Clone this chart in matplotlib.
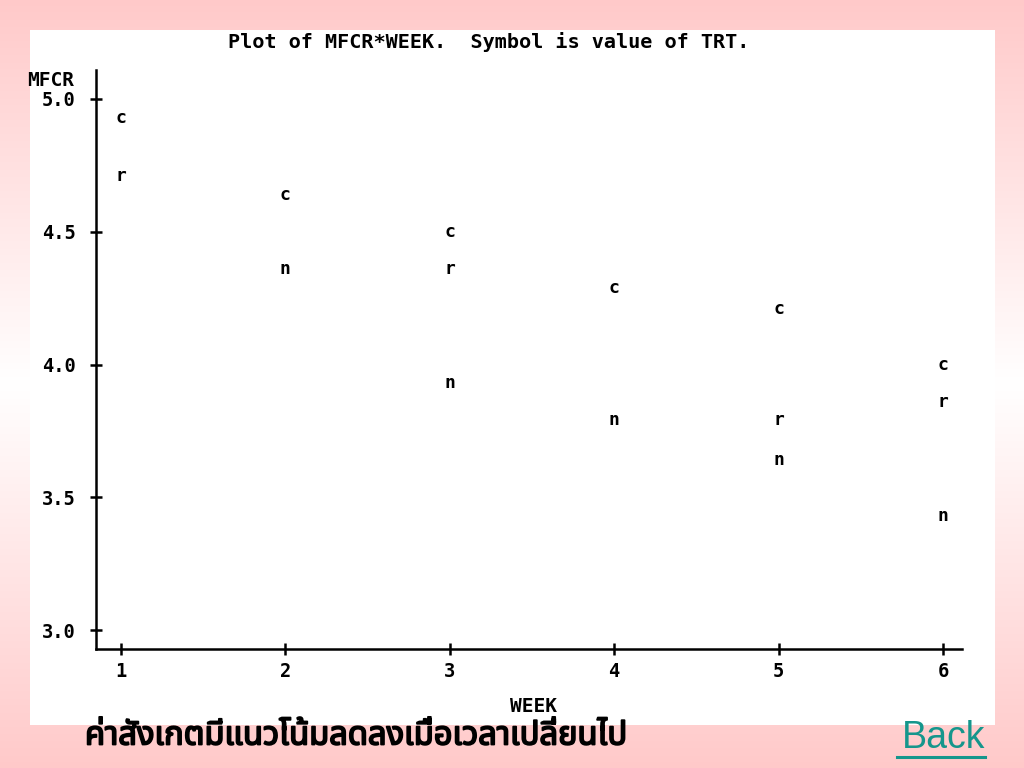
import numpy as np
import matplotlib
matplotlib.use("Agg")
import matplotlib.pyplot as plt
import matplotlib.patheffects as pe
from matplotlib.patches import Rectangle

# values
weeks_c = [1, 2, 3, 4, 5, 6]
mfcr_c = [4.93, 4.64, 4.50, 4.29, 4.21, 4.00]
weeks_r = [1, 3, 5, 6]
mfcr_r = [4.71, 4.36, 3.79, 3.86]
weeks_n = [2, 3, 4, 5, 6]
mfcr_n = [4.36, 3.93, 3.79, 3.64, 3.43]

x_ticks = [1, 2, 3, 4, 5, 6]
y_ticks = [3.0, 3.5, 4.0, 4.5, 5.0]

title = "Plot of MFCR*WEEK.  Symbol is value of TRT."
caption = "ค่าสังเกตมีแนวโน้มลดลงเมื่อเวลาเปลี่ยนไป"

mono = "DejaVu Sans Mono"
thai_fonts = ["Noto Sans Thai", "Noto Sans Thai Looped", "Loma", "Garuda",
              "Norasi", "Tlwg Typo", "Noto Sans", "DejaVu Sans"]

fig = plt.figure(figsize=(10.24, 7.68), dpi=100)

# slide background: pink at top and bottom fading to white in the middle
bg = fig.add_axes([0, 0, 1, 1], zorder=-10)
t = np.abs(np.linspace(-1, 1, 256))[:, None]
pink = np.array([1.0, 0.79, 0.79])
grad = (1 - t)[..., None] * np.ones(3) + t[..., None] * pink
grad = np.repeat(grad, 4, axis=1)
bg.imshow(grad, aspect="auto", extent=[0, 1, 0, 1])
bg.add_patch(Rectangle((30 / 1024, 1 - 725 / 768), 965 / 1024, 695 / 768,
                       facecolor="white", edgecolor="none"))
bg.set_xlim(0, 1)
bg.set_ylim(0, 1)
bg.axis("off")

ax = fig.add_axes([96 / 1024, 1 - 649 / 768, 866 / 1024, 579 / 768])
ax.patch.set_alpha(0)
ax.set_xlim(0.848, 6.116)
ax.set_ylim(2.929, 5.109)
for s in ["top", "right"]:
    ax.spines[s].set_visible(False)
for s in ["left", "bottom"]:
    ax.spines[s].set_linewidth(1.8)

ax.set_xticks(x_ticks)
ax.set_xticklabels([str(w) for w in x_ticks])
ax.set_yticks(y_ticks)
ax.set_yticklabels([f"{v:.1f}" for v in y_ticks])
ax.tick_params(axis="both", direction="inout", length=9, width=1.8, labelsize=13.5)
ax.tick_params(axis="y", pad=10)
ax.tick_params(axis="x", pad=5)
for lab in ax.get_xticklabels() + ax.get_yticklabels():
    lab.set_fontfamily(mono)
    lab.set_fontweight("bold")

for xs, ys, sym in [(weeks_c, mfcr_c, "c"), (weeks_r, mfcr_r, "r"), (weeks_n, mfcr_n, "n")]:
    for x, y in zip(xs, ys):
        ax.text(x, y, sym, ha="center", va="center", fontsize=13,
                fontfamily=mono, fontweight="bold")

fig.text(489 / 1024, 1 - 42 / 768, title, ha="center", va="center",
         fontsize=14.5, fontfamily=mono, fontweight="bold")
fig.text(27 / 1024, 1 - 80 / 768, "MFCR", ha="left", va="center",
         fontsize=14, fontfamily=mono, fontweight="bold")
fig.text(533 / 1024, 1 - 706 / 768, "WEEK", ha="center", va="center",
         fontsize=14, fontfamily=mono, fontweight="bold")

fig.text(85 / 1024, 1 - 736 / 768, caption, ha="left", va="center",
         fontsize=23.5, fontweight="bold", family=thai_fonts,
         path_effects=[pe.withStroke(linewidth=1.3, foreground="black")])
fig.text(985 / 1024, 1 - 738 / 768, "Back", ha="right", va="center",
         fontsize=27, color="#15968C", fontfamily="Liberation Sans")
fig.add_artist(plt.Line2D([897 / 1024, 985 / 1024], [1 - 757 / 768, 1 - 757 / 768],
                          color="#15968C", linewidth=2.2))

fig.savefig("out.png", dpi=100)
